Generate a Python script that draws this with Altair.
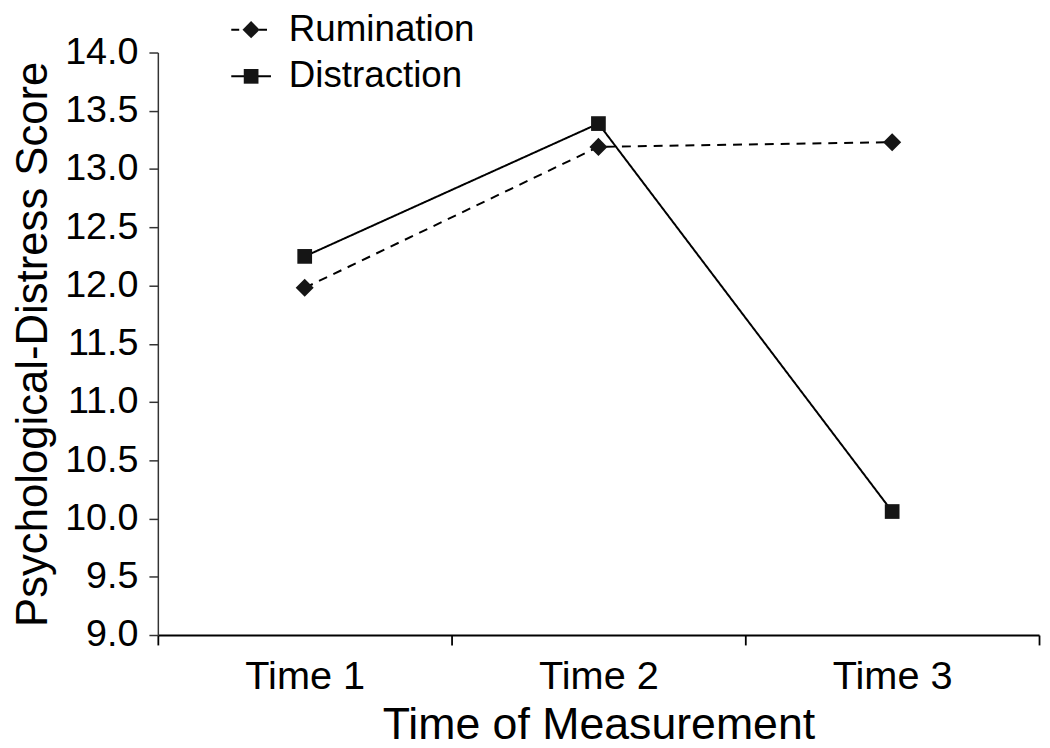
import altair as alt
import pandas as pd

times = ["Time 1", "Time 2", "Time 3"]
series = ["Rumination", "Distraction"]
rumination = [11.98, 13.19, 13.23]
distraction = [12.25, 13.39, 10.06]
y_ticks = [9.0, 9.5, 10.0, 10.5, 11.0, 11.5, 12.0, 12.5, 13.0, 13.5, 14.0]

df = pd.DataFrame({
    "time": times * 2,
    "series": [series[0]] * 3 + [series[1]] * 3,
    "score": rumination + distraction,
})

FONT = "Liberation Sans"

x_enc = alt.X("time:N", scale=alt.Scale(type="band", domain=times, paddingInner=0, paddingOuter=0),
              axis=alt.Axis(title="Time of Measurement", labelAngle=0, tickBand="extent",
                            labelFontSize=40, titleFontSize=45, labelPadding=12, titlePadding=6,
                            tickSize=10, domainColor="black", tickColor="black", domainWidth=1.8,
                            tickWidth=1.8, labelColor="black", titleColor="black",
                            labelFont=FONT, titleFont=FONT, titleFontWeight="normal"))
y_enc = alt.Y("score:Q", scale=alt.Scale(domain=[9, 14], nice=False, zero=False),
              axis=alt.Axis(title="Psychological-Distress Score", values=y_ticks, format=".1f",
                            labelFontSize=38, titleFontSize=44, labelPadding=11, titlePadding=9,
                            tickSize=9, domainColor="#333", tickColor="#333", domainWidth=1.5,
                            tickWidth=1.5, labelColor="black", titleColor="black", grid=False,
                            labelFont=FONT, titleFont=FONT, titleFontWeight="normal"))

base = alt.Chart(df)

lines = base.mark_line(color="black", strokeWidth=2).encode(
    x=x_enc, y=y_enc,
    strokeDash=alt.StrokeDash("series:N", scale=alt.Scale(domain=series, range=[[9, 7], [1, 0]]), legend=None),
    detail="series:N",
)

points = base.mark_point(filled=True, color="#151515", opacity=1).encode(
    x=x_enc, y=y_enc,
    shape=alt.Shape("series:N", scale=alt.Scale(domain=series, range=["diamond", "square"]), legend=None),
    size=alt.Size("series:N", scale=alt.Scale(domain=series, range=[330, 220]), legend=None),
)

# manual legend (top-left, above plot)
legend_layers = []
leg_rows = [(-23, [8, 6], "diamond", 300), (24, [1, 0], "square", 220)]
for name, (ly, dash, shp, sz) in zip(series, leg_rows):
    ldf = pd.DataFrame({"s": [name]})
    lb = alt.Chart(ldf)
    legend_layers.append(lb.mark_rule(color="black", strokeWidth=2, strokeDash=dash).encode(
        x=alt.value(74), x2=alt.value(114), y=alt.value(ly)))
    legend_layers.append(lb.mark_point(filled=True, color="#151515", opacity=1, shape=shp, size=sz).encode(
        x=alt.value(94), y=alt.value(ly)))
    legend_layers.append(lb.mark_text(align="left", baseline="middle", fontSize=37, font=FONT, color="black").encode(
        x=alt.value(132), y=alt.value(ly), text="s:N"))

chart = alt.layer(lines, points, *legend_layers).properties(
    width=888, height=587,
    autosize=alt.AutoSizeParams(type="none"),
    padding={"left": 151, "top": 42, "right": 3, "bottom": 111},
    background="white",
).configure_view(stroke=None)

chart.save("out.html", embed_options={"renderer": "svg", "actions": False})
